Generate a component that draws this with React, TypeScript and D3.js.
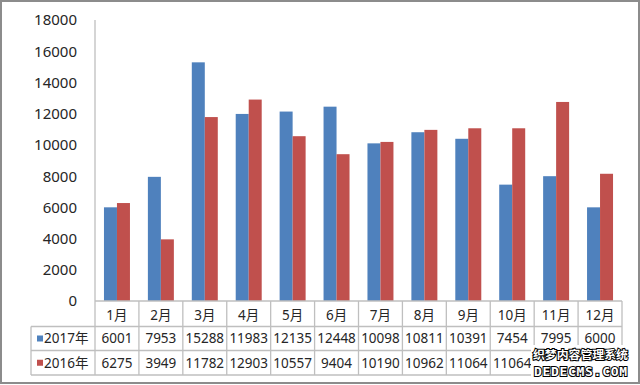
import React from 'react';
import * as d3 from 'd3';

const months = ['1月', '2月', '3月', '4月', '5月', '6月', '7月', '8月', '9月', '10月', '11月', '12月'];
const seriesNames = ['2017年', '2016年'];
const values2017 = [6001, 7953, 15288, 11983, 12135, 12448, 10098, 10811, 10391, 7454, 7995, 6000];
const values2016 = [6275, 3949, 11782, 12903, 10557, 9404, 10190, 10962, 11064, 11064, 12750, 8150];
const yTicks = [0, 2000, 4000, 6000, 8000, 10000, 12000, 14000, 16000, 18000];
const colors = ['#4F81BD', '#C0504D'];

const W = 640, H = 385;
const left = 95, right = 622, top = 20, base = 301;
const tableLeft = 31;
const rowLines = [base, 326.5, 350.5, 375];
const font = '"Noto Sans", "Noto Sans CJK SC", sans-serif';
const gridColor = '#bfbfbf';
// watermark box (covers the last two cells of the 2016 row)
const wm = { x: 531, y: 345, w: 99, h: 34 };

export default function App() {
  const x = d3.scaleBand<string>().domain(months).range([left, right]).padding(0);
  const xs = d3.scaleBand<string>().domain(seriesNames).range([0, x.bandwidth()])
    .paddingInner(0).paddingOuter(0.69);
  const y = d3.scaleLinear().domain([0, 18000]).range([base, top]);
  const series = [values2017, values2016];
  const hidden = (si: number, i: number) => {
    const cx = (x(months[i]) as number) + x.bandwidth() / 2;
    return si === 1 && cx > wm.x;
  };

  return (
    <svg width={W} height={H} style={{ position: 'absolute', left: 0, top: 0, display: 'block' }}
      fontFamily={font}>
      <rect x={0} y={0} width={W} height={H} fill="#fff" />
      <rect x={1} y={1} width={W - 2} height={H - 3} fill="none" stroke="#8c8c8c" strokeWidth={2} />

      {/* y ticks */}
      {yTicks.map(t => (
        <text key={t} x={77} y={y(t)} dy="0.36em" textAnchor="end" fontSize={15} fill="#262626">{t}</text>
      ))}

      {/* bars */}
      {series.map((vals, si) => vals.map((v, i) => (
        <rect key={si + '-' + i} x={(x(months[i]) as number) + (xs(seriesNames[si]) as number)}
          y={y(v)} width={xs.bandwidth()} height={base - y(v)} fill={colors[si]} />
      )))}

      {/* data table grid */}
      <line x1={left} x2={left} y1={top} y2={rowLines[3]} stroke={gridColor} strokeWidth={1.3} />
      <line x1={left} x2={right} y1={rowLines[0]} y2={rowLines[0]} stroke={gridColor} strokeWidth={1.3} />
      {rowLines.slice(1).map(r => (
        <line key={r} x1={tableLeft} x2={right} y1={r} y2={r} stroke={gridColor} strokeWidth={1.3} />
      ))}
      <line x1={tableLeft} x2={tableLeft} y1={rowLines[1]} y2={rowLines[3]} stroke={gridColor} strokeWidth={1.3} />
      {months.map(m => {
        const xr = (x(m) as number) + x.bandwidth();
        return <line key={m} x1={xr} x2={xr} y1={rowLines[0]} y2={rowLines[3]} stroke={gridColor} strokeWidth={1.3} />;
      })}

      {/* category labels */}
      {months.map(m => (
        <text key={m} x={(x(m) as number) + x.bandwidth() / 2} y={(rowLines[0] + rowLines[1]) / 2 + 1}
          dy="0.36em" textAnchor="middle" fontSize={13.5} fill="#262626">{m}</text>
      ))}

      {/* series rows */}
      {series.map((vals, si) => {
        const cy = (rowLines[si + 1] + rowLines[si + 2]) / 2;
        return (
          <g key={si}>
            <rect x={37} y={cy - 3} width={6} height={6} fill={colors[si]} />
            <text x={44} y={cy} dy="0.36em" fontSize={13.5} fill="#262626">{seriesNames[si]}</text>
            {vals.map((v, i) => hidden(si, i) ? null : (
              <text key={i} x={(x(months[i]) as number) + x.bandwidth() / 2} y={cy} dy="0.36em"
                textAnchor="middle" fontSize={13.5} fill="#262626">{v}</text>
            ))}
          </g>
        );
      })}

      {/* watermark */}
      <rect x={wm.x} y={wm.y} width={wm.w} height={wm.h} fill="#fff" />
      <g fontWeight="bold" fill="#fff" stroke="#000" strokeWidth={2} style={{ paintOrder: 'stroke' }}>
        <text x={533} y={359} fontSize={11.5} textLength={95} lengthAdjust="spacingAndGlyphs">织梦内容管理系统</text>
        <text x={534} y={376} fontSize={13} textLength={93} lengthAdjust="spacing"
          fontFamily='"DejaVu Sans Mono", monospace'>DEDECMS.COM</text>
      </g>
    </svg>
  );
}
